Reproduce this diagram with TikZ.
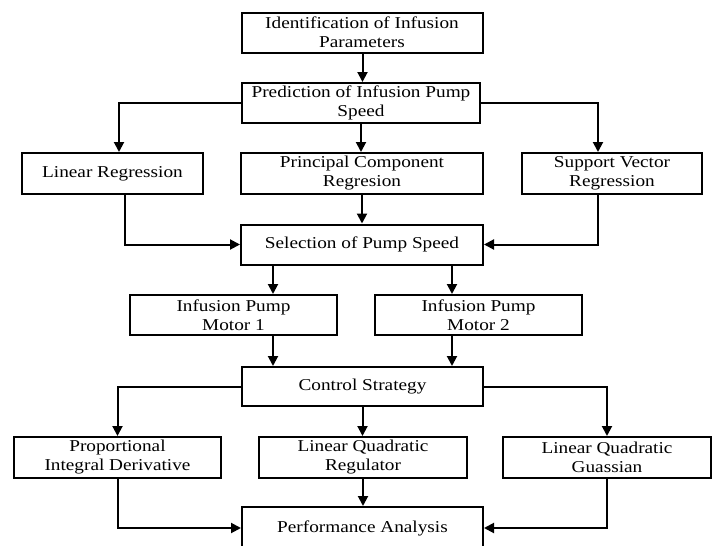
\documentclass[tikz,border=0pt]{standalone}
\usepackage{fontspec}
\setmainfont[FakeStretch=1.16]{Liberation Serif}
\usepackage{tikz}
\usetikzlibrary{arrows.meta}

\tikzset{
	block/.style = {draw, line width = 2pt, align = center, inner sep = 0pt,
		minimum height = 40pt, font = \fontsize{16.6}{19}\selectfont},
	flow/.style = {line width = 2pt, -{Triangle[length = 10pt, width = 10pt]}}
}

\begin{document}
\begin{tikzpicture}[x = 1pt, y = -1pt]
		\useasboundingbox (0,0) rectangle (715,546);
		% Parameters and prediction
		\node [block, minimum width = 241pt] (ident) at (362,32.5) {Identification of Infusion\\ Parameters};
		\node [block, minimum width = 238pt] (predict) at (361,103) {Prediction of Infusion Pump\\ Speed};
		% Regression methods
		\node [block, minimum width = 181pt, minimum height = 41pt] (linreg) at (112.5,173.5) {Linear Regression};
		\node [block, minimum width = 242pt, minimum height = 41pt] (pcr) at (362,173.5) {Principal Component\\ Regresion};
		\node [block, minimum width = 180pt, minimum height = 41pt] (svr) at (612,173.5) {Support Vector\\ Regression};
		% Pump speed and motors
		\node [block, minimum width = 242pt] (select) at (362,244.5) {Selection of Pump Speed};
		\node [block, minimum width = 207pt] (motorA) at (233.5,315) {Infusion Pump\\ Motor 1};
		\node [block, minimum width = 207pt] (motorB) at (478.5,315) {Infusion Pump\\ Motor 2};
		% Control strategies
		\node [block, minimum width = 241pt, minimum height = 39pt] (control) at (362.5,386.5) {Control Strategy};
		\node [block, minimum width = 207pt, minimum height = 41pt] (pid) at (117.5,457.5) {Proportional\\ Integral Derivative};
		\node [block, minimum width = 208pt, minimum height = 41pt] (lqr) at (363,457.5) {Linear Quadratic\\ Regulator};
		\node [block, minimum width = 208pt, minimum height = 41pt] (lqg) at (607,457.5) {Linear Quadratic\\ Guassian};
		% Performance (cut by the page)
		\node [block, minimum width = 241pt, minimum height = 42pt] (perf) at (362.5,528) {Performance Analysis};

		% Top arrows
		\draw [flow] ([xshift = 0.5pt]ident.south) -- ([xshift = 0.5pt]ident.south |- predict.north);
		\draw [flow] (predict.west) -| ([xshift = 6.5pt]linreg.north);
		\draw [flow] (predict.south) -- (predict.south |- pcr.north);
		\draw [flow] (predict.east) -| ([xshift = -14pt]svr.north);
		% Into selection
		\draw [flow] ([xshift = 12.5pt]linreg.south) |- (select.west);
		\draw [flow] (pcr) -- (select);
		\draw [flow] ([xshift = -14pt]svr.south) |- (select.east);
		% Motors
		\draw [flow] ([xshift = -89pt]select.south) -- ([xshift = -89pt]select.south |- motorA.north);
		\draw [flow] ([xshift = 90pt]select.south) -- ([xshift = 90pt]select.south |- motorB.north);
		\draw [flow] ([xshift = 39.5pt]motorA.south) -- ([xshift = 39.5pt]motorA.south |- control.north);
		\draw [flow] ([xshift = -26.5pt]motorB.south) -- ([xshift = -26.5pt]motorB.south |- control.north);
		% Strategies
		\draw [flow] (control.west) -| (pid.north);
		\draw [flow] (control.south) -- (control.south |- lqr.north);
		\draw [flow] (control.east) -| (lqg.north);
		% Into performance
		\draw [flow] (pid.south) |- (perf.west);
		\draw [flow] (lqr.south) -- (lqr.south |- perf.north);
		\draw [flow] (lqg.south) |- (perf.east);
\end{tikzpicture}
\end{document}
